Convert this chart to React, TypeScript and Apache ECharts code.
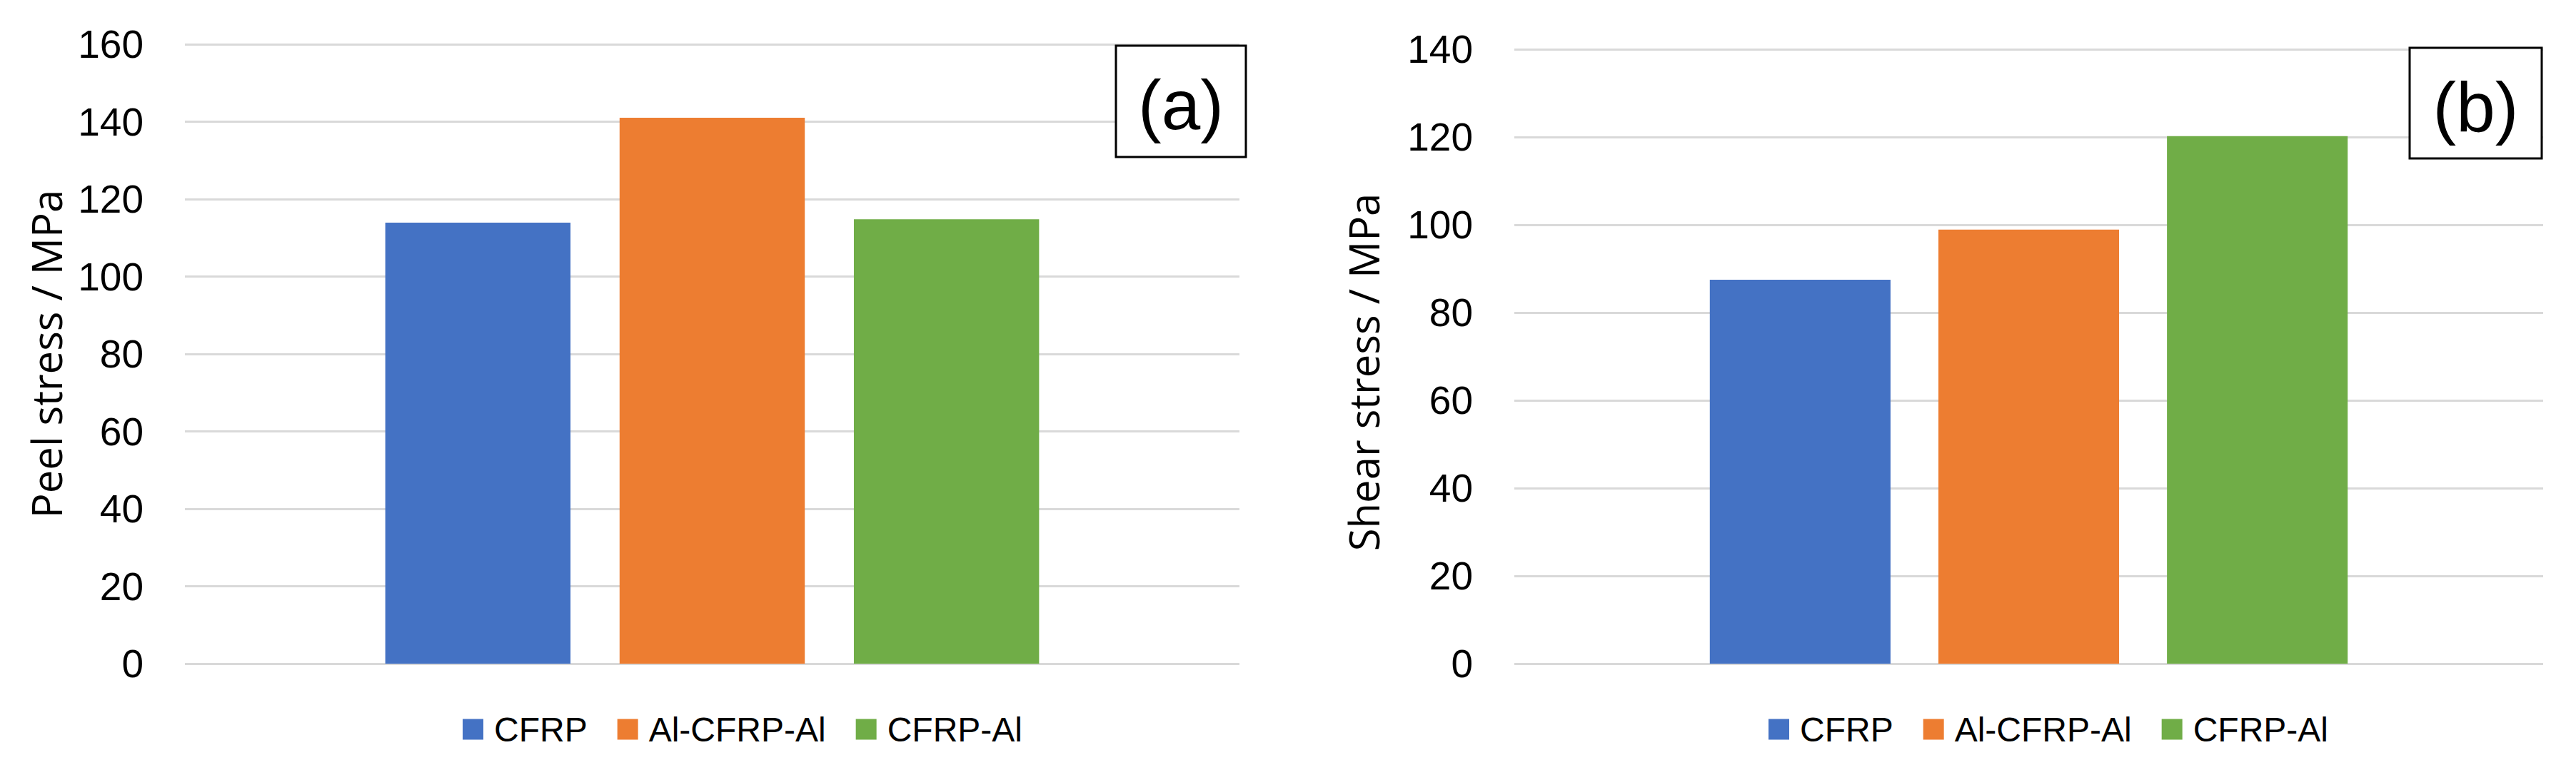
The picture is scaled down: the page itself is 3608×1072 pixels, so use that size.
import React, { useEffect, useRef } from "react";
import * as echarts from "echarts";

// ---- data ----
const categories = [""];
const seriesNames = ["CFRP", "Al-CFRP-Al", "CFRP-Al"];
const seriesColors = ["#4472C4", "#ED7D31", "#70AD47"];
const peelStress = [113.9, 141.0, 114.8];
const shearStress = [87.5, 98.9, 120.2];
const peelAxisMax = 160;
const shearAxisMax = 140;
const axisInterval = 20;
const peelTitle = "Peel stress / MPa";
const shearTitle = "Shear stress / MPa";
const panelLabels = ["(a)", "(b)"];

const NARROW = "'Liberation Sans Narrow', 'Liberation Sans', Arial, sans-serif";
const TITLE_FONT = "'Open Sans', 'Noto Sans', sans-serif";

export default function App() {
  const ref = useRef<HTMLDivElement>(null);

  useEffect(() => {
    document.body.style.margin = "0";
    if (!ref.current) return;
    const chart = echarts.init(ref.current, undefined, { renderer: "svg" });

    const grids = [
      { left: 259, top: 62, width: 1477, height: 868 },
      { left: 2121, top: 69, width: 1441, height: 861 },
    ];

    const yAxisBase = (max: number, name: string, gridIndex: number, nameGap: number, padding: number[]) => ({
      type: "value",
      gridIndex,
      min: 0,
      max,
      interval: axisInterval,
      name,
      nameLocation: "middle",
      nameGap,
      nameTextStyle: {
        fontFamily: TITLE_FONT,
        fontSize: 58,
        color: "#000",
        padding,
      },
      axisLine: { show: false },
      axisTick: { show: false },
      axisLabel: {
        fontFamily: NARROW,
        fontSize: 55,
        color: "#000",
        margin: 58,
      },
      splitLine: { show: true, lineStyle: { color: "#d9d9d9", width: 3 } },
    });

    const xAxisBase = (gridIndex: number) => ({
      type: "category",
      gridIndex,
      data: categories,
      axisLine: { show: false },
      axisTick: { show: false },
      axisLabel: { show: false },
      splitLine: { show: false },
    });

    const makeSeries = (values: number[], idx: number) =>
      values.map((v, i) => ({
        type: "bar",
        name: seriesNames[i],
        xAxisIndex: idx,
        yAxisIndex: idx,
        data: [v],
        barGap: "26.5%",
        barCategoryGap: "38%",
        itemStyle: { color: seriesColors[i] },
      }));

    const legendBase = (left: number) => ({
      data: seriesNames,
      left,
      top: 993,
      icon: "rect",
      itemWidth: 29,
      itemHeight: 29,
      itemGap: 42,
      textStyle: {
        fontFamily: NARROW,
        fontSize: 48,
        color: "#000",
        padding: [0, 0, 0, 10],
      },
    });

    const box = (x: number, y: number, w: number, h: number, label: string) => [
      {
        type: "rect",
        z: 100,
        shape: { x, y, width: w, height: h },
        style: { fill: "#fff", stroke: "#000", lineWidth: 3 },
      },
      {
        type: "text",
        z: 101,
        x: x + w / 2,
        y: y + h / 2 + 5,
        style: {
          text: label,
          fontFamily: NARROW,
          fontSize: 98,
          fill: "#000",
          align: "center",
          verticalAlign: "middle",
        },
      },
    ];

    chart.setOption({
      animation: false,
      backgroundColor: "#fff",
      grid: grids,
      xAxis: [xAxisBase(0), xAxisBase(1)],
      yAxis: [
        yAxisBase(peelAxisMax, peelTitle, 0, 166, [0, 0, 0, 0]),
        yAxisBase(shearAxisMax, shearTitle, 1, 183, [0, 44, 0, 0]),
      ],
      legend: [legendBase(643), legendBase(2472)],
      series: [...makeSeries(peelStress, 0), ...makeSeries(shearStress, 1)],
      graphic: [
        ...box(1563, 64, 182, 156, panelLabels[0]),
        ...box(3375, 67, 185, 155, panelLabels[1]),
      ],
    });

    return () => chart.dispose();
  }, []);

  return <div ref={ref} style={{ width: 3608, height: 1072 }} />;
}
